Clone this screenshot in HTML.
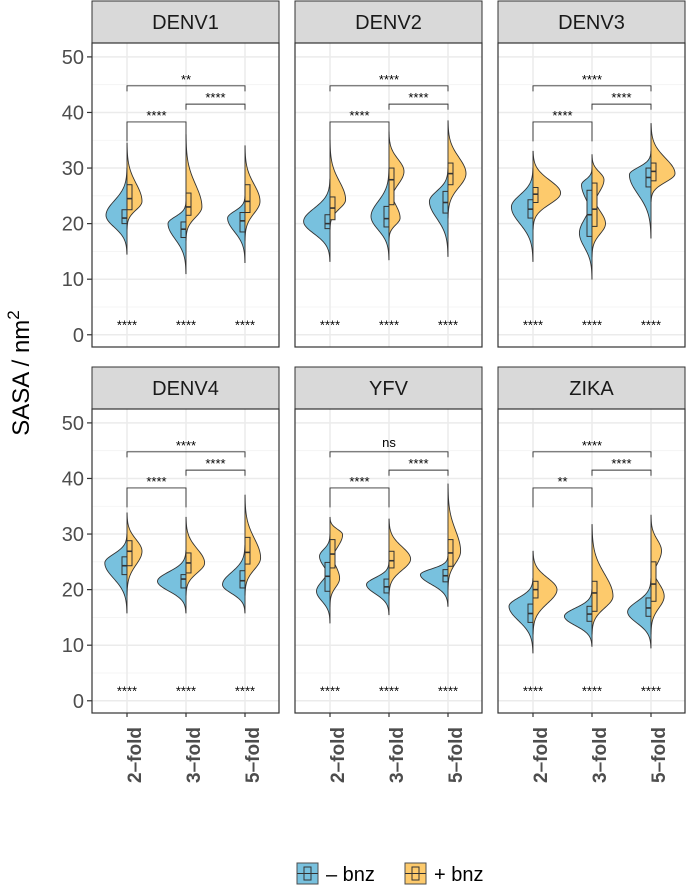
<!DOCTYPE html>
<html><head><meta charset="utf-8"><style>
html,body{margin:0;padding:0;background:#fff}
svg{display:block;font-family:"Liberation Sans",Arial,sans-serif}
</style></head><body>
<svg id="chart" width="686" height="887" viewBox="0 0 686 887">
<text transform="translate(29,373) rotate(-90)" text-anchor="middle" font-size="24" fill="#000">SASA / nm<tspan dy="-10" font-size="17">2</tspan></text>
<g>
<g>
<rect x="297" y="863" width="21" height="21" fill="#78c1de" stroke="#4d4d4d" stroke-width="1"/>
<rect x="304" y="867" width="7" height="13" fill="none" stroke="#333" stroke-width="1"/>
<line x1="297" y1="873.5" x2="318" y2="873.5" stroke="#333" stroke-width="1"/>
<text x="326" y="881" font-size="20" fill="#000">– bnz</text></g>
<g>
<rect x="405" y="863" width="21" height="21" fill="#fdca6c" stroke="#4d4d4d" stroke-width="1"/>
<rect x="412" y="867" width="7" height="13" fill="none" stroke="#333" stroke-width="1"/>
<line x1="405" y1="873.5" x2="426" y2="873.5" stroke="#333" stroke-width="1"/>
<text x="434" y="881" font-size="20" fill="#000">+ bnz</text></g>
</g>
</svg>
<script>
const panelNames = ["DENV1","DENV2","DENV3","DENV4","YFV","ZIKA"];
const groupLabels = ["2–fold","3–fold","5–fold"];
const yTicks = [0,10,20,30,40,50];
// [min, q1, median, q3, max] per panel per group
const minusStats = [
 [[14.5,20,21,22.5,30],[11,17.5,19,20.3,24],[13,18.5,20.5,22,25]],
 [[13.2,19.1,20,21.6,28],[13.5,19.4,20.9,23.1,30],[14.1,21.9,23.8,25.8,30]],
 [[13.2,21,22.6,24.3,30],[10,17.7,21.6,26,30],[17.4,26.6,28.3,30,33]],
 [[15.8,22.7,24.3,25.9,30],[15.8,20.3,21.9,22.7,27],[15.8,20.3,21.6,23.4,28]],
 [[14,19.7,22.4,24.9,30],[15.5,19.4,20.5,21.9,25],[17,21.4,22.5,23.6,26]],
 [[8.6,14.1,15.7,17.4,22],[9.8,14.3,15.6,17,20],[9.5,15.2,16.7,18.5,22]]
];
const plusStats = [
 [[19,22.5,24.5,27,34.5],[17,21.5,23,25.5,36],[17,22,24,27,34]],
 [[19,20.7,22.8,24.8,35],[17,23.4,27.9,30,36.5],[21,27,29,30.9,38.5]],
 [[19,23.8,25.3,26.5,33],[14,19.5,22.6,27.3,32.4],[24,27.7,29.4,30.9,38]],
 [[19,24.3,26.9,28.8,33.8],[19,23,24.8,26.6,33],[19,24.6,26.7,29.4,37]],
 [[17,23.9,26.4,29,33],[19,23.9,25.2,26.9,32.7],[20,24.2,26.6,29,39]],
 [[12,18.5,20,21.5,26.9],[12,16.1,19.4,21.5,31.7],[12,17.9,21,25,33.4]]
];
// density peaks [mode, relative density]
const minusPeaks = [
 [[[21.5,0.7]],[[20,0.6]],[[21,0.58]]],
 [[[20.4,0.88]],[[21.3,0.6]],[[24,0.62]]],
 [[[23,0.72]],[[18.3,0.42],[27,0.35]],[[28.8,0.72]]],
 [[[24.8,0.74]],[[21.5,0.95]],[[20.9,0.75]]],
 [[[19.7,0.45],[26,0.35]],[[20.9,0.75]],[[22.7,0.92]]],
 [[[17,0.8]],[[15.2,0.92]],[[16,0.78]]]
];
const plusPeaks = [
 [[[24,0.5]],[[23,0.53]],[[24,0.5]]],
 [[[24.3,0.52]],[[21,0.37],[29.4,0.5]],[[29,0.6]]],
 [[[25.5,0.92]],[[20,0.45],[27.9,0.4]],[[29,0.8]]],
 [[[26.9,0.5]],[[24.8,0.62]],[[25.7,0.52]]],
 [[[22,0.32],[29.9,0.42]],[[25.5,0.72]],[[26.9,0.42]]],
 [[[20,0.8]],[[18.8,0.7]],[[18.8,0.44],[27,0.35]]]
];
const bracketLevels = [38.3,41.5,44.8];
const bracketLabels = [
 ["****","****","**"],["****","****","****"],["****","****","****"],
 ["****","****","****"],["****","****","ns"],["**","****","****"]
];
const bottomLabels = [
 ["****","****","****"],["****","****","****"],["****","****","****"],
 ["****","****","****"],["****","****","****"],["****","****","****"]
];
const bottomLabelY = 2;

const NS="http://www.w3.org/2000/svg";
const svg=document.getElementById('chart');
const panelLefts=[92,295,498], panelW=187, stripH=42, panelH=304;
const rowTops=[43,409];
const yMax=52.5, yMin=-2.2, pxPerUnit=panelH/(yMax-yMin);
const densPx=30;
function mk(tag,attrs,parent){const e=document.createElementNS(NS,tag);for(const k in attrs)e.setAttribute(k,attrs[k]);(parent||svg).appendChild(e);return e;}
function yScale(v,row){return rowTops[row]+(yMax-v)*pxPerUnit;}
function xScale(i,col){return panelLefts[col]+35+i*59;}
function density(y,st,peaks){
  const pk=peaks.slice().sort((a,b)=>a[0]-b[0]);let w=0;
  for(let i=0;i<pk.length;i++){
    const m=pk[i][0];
    let s;
    if(y<m) s= i===0 ? (m-st[0])/2.3 : (m-pk[i-1][0])/2.5;
    else s= i===pk.length-1 ? (st[4]-m)/2.3 : (pk[i+1][0]-m)/2.5;
    s=Math.max(s,0.3);
    w=Math.max(w,pk[i][1]*Math.exp(-Math.pow((y-m)/s,2)));
  }
  return w;
}
function halfViolin(g,cx,row,st,peaks,side,fill,name){
  const n=70;let d="M"+cx+","+yScale(st[0],row);
  for(let k=0;k<=n;k++){const v=st[0]+(st[4]-st[0])*k/n;d+=" L"+(cx+side*density(v,st,peaks)*densPx).toFixed(2)+","+yScale(v,row).toFixed(2);}
  d+=" L"+cx+","+yScale(st[4],row)+" Z";
  const p=mk('path',{d:d,fill:fill,stroke:'#333','stroke-width':0.9},g);
  
  
  const bx= side<0 ? cx-5 : cx;
  const r=mk('rect',{x:bx,y:yScale(st[3],row),width:5,height:yScale(st[1],row)-yScale(st[3],row),fill:fill,stroke:'#333','stroke-width':1},g);
  
  
  const m=mk('line',{x1:bx,x2:bx+5,y1:yScale(st[2],row),y2:yScale(st[2],row),stroke:'#333','stroke-width':1.6},g);
  
  
}
for(let p=0;p<6;p++){
  const row=Math.floor(p/3), col=p%3, L=panelLefts[col], T=rowTops[row];
  const g=mk('g',{});
  
  
  const st=mk('rect',{x:L,y:T-stripH,width:panelW,height:stripH,fill:'#d9d9d9',stroke:'#333','stroke-width':1},g);
  
  
  const stt=mk('text',{x:L+panelW/2,y:T-stripH/2+7,'text-anchor':'middle','font-size':20,fill:'#1a1a1a'},g);
  stt.textContent=panelNames[p];
  
  
  mk('rect',{x:L,y:T,width:panelW,height:panelH,fill:'#fff'},g);
  for(let v=5;v<=50;v+=10){const y=yScale(v,row);mk('line',{x1:L,x2:L+panelW,y1:y,y2:y,stroke:'#f2f2f2','stroke-width':0.8},g);}
  yTicks.forEach(v=>{const y=yScale(v,row);mk('line',{x1:L,x2:L+panelW,y1:y,y2:y,stroke:'#ebebeb','stroke-width':1.5},g);});
  for(let i=0;i<3;i++){const x=xScale(i,col);mk('line',{x1:x,x2:x,y1:T,y2:T+panelH,stroke:'#ebebeb','stroke-width':1.5},g);}
  for(let i=0;i<3;i++){
    const cx=xScale(i,col);
    halfViolin(g,cx,row,minusStats[p][i],minusPeaks[p][i],-1,'#78c1de','minus-bnz-'+i);
    halfViolin(g,cx,row,plusStats[p][i],plusPeaks[p][i],1,'#fdca6c','plus-bnz-'+i);
    const t=mk('text',{x:cx,y:yScale(bottomLabelY,row)+6,'text-anchor':'middle','font-size':13,fill:'#000'},g);
    t.textContent=bottomLabels[p][i];
    
    
  }
  const pairs=[[0,1],[1,2],[0,2]];
  pairs.forEach((pr,k)=>{
    const y=yScale(bracketLevels[k],row), x1=xScale(pr[0],col), x2=xScale(pr[1],col);
    const tip=(k===0?3.5:1)*pxPerUnit;
    const b=mk('path',{d:`M${x1},${y+tip} L${x1},${y} L${x2},${y} L${x2},${y+tip}`,fill:'none',stroke:'#333','stroke-width':0.9},g);
    
    
    const lab=bracketLabels[p][k];
    const t=mk('text',{x:(x1+x2)/2,y:y-(lab==='ns'?5:2),'text-anchor':'middle','font-size':lab==='ns'?13:13,fill:'#000'},g);
    t.textContent=lab;
    
    
  });
  mk('rect',{x:L,y:T,width:panelW,height:panelH,fill:'none',stroke:'#333','stroke-width':1.2},g);
  if(col===0){
    yTicks.forEach(v=>{const y=yScale(v,row);
      mk('line',{x1:L-5,x2:L,y1:y,y2:y,stroke:'#333','stroke-width':1.2},g);
      const t=mk('text',{x:L-8,y:y+7,'text-anchor':'end','font-size':20,fill:'#4d4d4d'},g);
      t.textContent=v;
      
      
    });
  }
  if(row===1){
    for(let i=0;i<3;i++){const x=xScale(i,col);
      mk('line',{x1:x,x2:x,y1:T+panelH,y2:T+panelH+4,stroke:'#333','stroke-width':1.2},g);
      const t=mk('text',{transform:`translate(${x+14},${T+panelH+14}) rotate(-90)`,'text-anchor':'end','font-size':19,'font-weight':'bold',fill:'#4d4d4d'},g);
      t.textContent=groupLabels[i];
      
      
    }
  }
}
</script>
</body></html>
